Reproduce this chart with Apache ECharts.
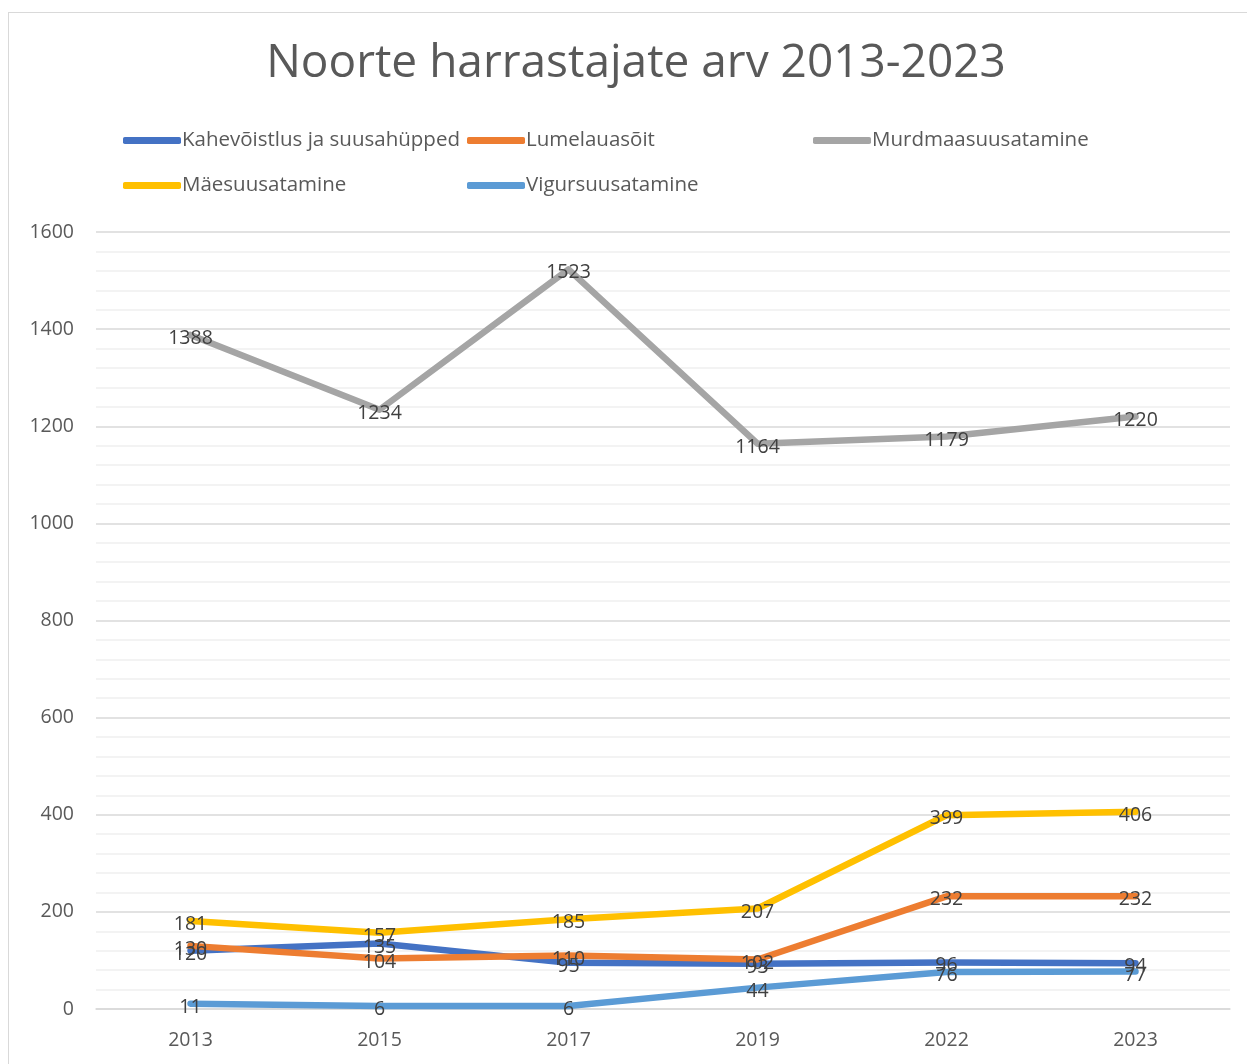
<!DOCTYPE html>
<html>
<head>
<meta charset="utf-8">
<script src="https://cdn.jsdelivr.net/npm/echarts@6/dist/echarts.min.js"></script>
<style>
  html, body { margin: 0; padding: 0; background: #fff; }
  #frame { position: absolute; left: 8px; top: 12px; width: 1300px; height: 1100px; border: 1px solid #d9d9d9; }
  #chart { position: absolute; left: 0; top: 0; width: 1247px; height: 1064px; }
</style>
</head>
<body>
<div id="frame"></div>
<div id="chart"></div>
<script>
const years = ['2013', '2015', '2017', '2019', '2022', '2023'];
const seriesNames = ['Kahevõistlus ja suusahüpped', 'Lumelauasõit', 'Murdmaasuusatamine', 'Mäesuusatamine', 'Vigursuusatamine'];
const kahevoistlus = [120, 135, 95, 93, 96, 94];
const lumelaud = [130, 104, 110, 102, 232, 232];
const murdmaa = [1388, 1234, 1523, 1164, 1179, 1220];
const maesuusk = [181, 157, 185, 207, 399, 406];
const vigur = [11, 6, 6, 44, 76, 77];
const colors = ['#4472C4', '#ED7D31', '#A5A5A5', '#FFC000', '#5B9BD5'];
const values = [kahevoistlus, lumelaud, murdmaa, maesuusk, vigur];

// legend slots: [left, top]
const legendPos = [[118, 125], [462, 125], [808, 125], [118, 170], [462, 170]];

const font = '"Open Sans", "Noto Sans", sans-serif';
const chart = echarts.init(document.getElementById('chart'), null, { renderer: 'canvas' });

const option = {
  animation: false,
  color: colors,
  title: {
    text: 'Noorte harrastajate arv 2013-2023',
    left: 631,
    textAlign: 'center',
    top: 36,
    textStyle: { fontFamily: font, fontSize: 46, fontWeight: 'normal', color: '#595959' }
  },
  legend: seriesNames.map((name, i) => ({
    data: [name],
    left: legendPos[i][0],
    top: legendPos[i][1],
    icon: 'roundRect',
    itemWidth: 58,
    itemHeight: 7,
    itemStyle: { color: colors[i], opacity: 1 },
    textStyle: { fontFamily: font, fontSize: 20.5, color: '#595959', padding: [0, 0, 0, -4] }
  })),
  grid: { left: 96, right: 17, top: 232, bottom: 55 },
  xAxis: {
    type: 'category',
    data: years,
    boundaryGap: true,
    axisLine: { lineStyle: { color: '#d9d9d9', width: 1.5 } },
    axisTick: { show: false },
    axisLabel: { fontFamily: font, fontSize: 19.5, color: '#595959', margin: 21 }
  },
  yAxis: {
    type: 'value',
    min: 0,
    max: 1600,
    interval: 200,
    axisLine: { show: false },
    axisTick: { show: false },
    axisLabel: { fontFamily: font, fontSize: 19.5, color: '#595959', margin: 22, formatter: v => String(v) },
    splitLine: { lineStyle: { color: '#d9d9d9', width: 1.5 } },
    minorTick: { show: false, splitNumber: 5 },
    minorSplitLine: { show: true, lineStyle: { color: '#f0f0f0', width: 1.5 } }
  },
  series: seriesNames.map((name, i) => ({
    name: name,
    type: 'line',
    data: values[i],
    showSymbol: true,
    symbol: 'circle',
    symbolSize: 1,
    itemStyle: { color: colors[i], opacity: 0 },
    lineStyle: { width: 6.5, color: colors[i], cap: 'round', join: 'round', opacity: 1 },
    label: {
      show: true,
      position: 'top',
      distance: -14,
      fontFamily: font,
      fontSize: 19.5,
      color: '#404040',
      opacity: 1
    }
  }))
};
chart.setOption(option);
</script>
</body>
</html>
